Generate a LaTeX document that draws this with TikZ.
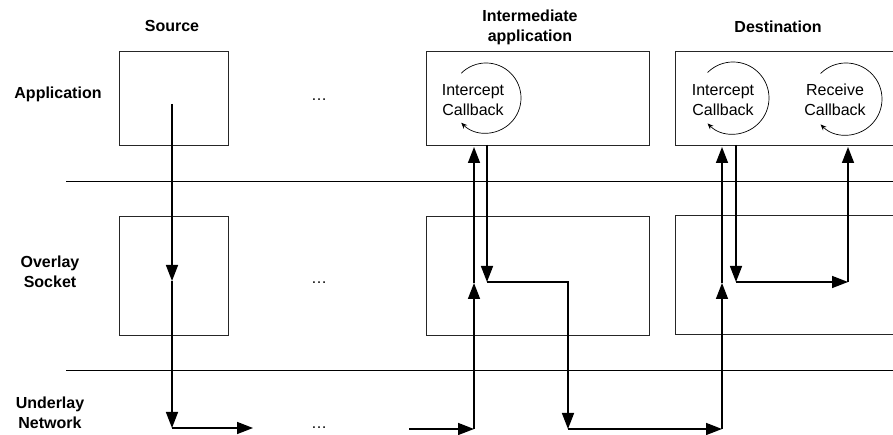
\documentclass[tikz,border=0pt]{standalone}
\usepackage{fontspec}
\setmainfont{Liberation Sans}
\usetikzlibrary{arrows.meta}

\begin{document}
\begin{tikzpicture}[x=1pt,y=1pt,>={Triangle[length=16pt,width=12pt]},
    box/.style={draw=black!85,line width=0.9pt,inner sep=0pt},
    appbox/.style={box,minimum height=94pt},
    sockbox/.style={box,minimum height=119pt},
    flow/.style={->,line width=1.5pt},
    layer/.style={font=\fontsize{16}{20}\selectfont\bfseries,align=center},
    cbtext/.style={font=\fontsize{16}{20}\selectfont,align=center},
    loop/.style={-{Stealth[length=6pt,width=5pt]},line width=0.7pt}]

    \clip (0,0) rectangle (893,435);

    % layer borders
    \draw[line width=0.9pt] (66,254) -- (893,254);
    \draw[line width=0.9pt] (66,65) -- (893,65);

    % headings
    \node[layer] (source) at (172,409) {Source};
    \node[layer] (inter) at (530,408) {Intermediate\\application};
    \node[layer] (dest) at (778,408) {Destination};
    \node[layer] (application) at (58,341) {Application};
    \node[layer] (overlay) at (50,163) {Overlay\\Socket};
    \node[layer] (underlay) at (50,22) {Underlay\\Network};

    % boxes
    \node[appbox,minimum width=109pt] (srcapp) at (173.5,337) {};
    \node[sockbox,minimum width=109pt] (srcsock) at (173.5,159.5) {};
    \node[appbox,minimum width=223pt] (midapp) at (537.5,337) {};
    \node[sockbox,minimum width=223pt] (midsock) at (537.5,159.5) {};
    \node[appbox,minimum width=240pt] (dstapp) at (795,337) {};
    \node[sockbox,minimum width=240pt] (dstsock) at (795,160) {};

    \foreach \y/\n in {334/a,151/b,6/c}
        \node[cbtext,anchor=base] (dots\n) at (319,\y) {…};

    % callbacks
    \node[cbtext] (midicb) at (473,335) {Intercept\\Callback};
    \node[cbtext] (dsticb) at (723,335) {Intercept\\Callback};
    \node[cbtext] (dstrcb) at (835,335) {Receive\\Callback};
    \draw[loop] (486,337) ++(135:35) arc[start angle=135,end angle=-135,radius=35];
    \draw[loop] (733,337) ++(135:36) arc[start angle=135,end angle=-135,radius=36];
    \draw[loop] (846,336) ++(135:36) arc[start angle=135,end angle=-135,radius=36];

    % source path
    \coordinate (s0) at (172,331);
    \coordinate (s1) at (172,154);
    \coordinate (s2) at (172,7);
    \coordinate (s3) at (253,7);
    \draw[flow] (s0) -- (s1);
    \draw[flow] (s1) -- (s2);
    \draw[flow] (s2) -- (s3);

    % intermediate path
    \coordinate (m0) at (409,6);
    \coordinate (m1) at (474,6);
    \coordinate (m2) at (474,152);
    \coordinate (m3) at (474,288);
    \coordinate (m4) at (487,290);
    \coordinate (m5) at (487,153);
    \coordinate (m6) at (568,6);
    \draw[flow] (m0) -- (m1);
    \draw[flow] (m1) -- (m2);
    \draw[flow] (m2) -- (m3);
    \draw[flow] (m4) -- (m5);
    \draw[flow] (m5) -| (m6);

    % destination path
    \coordinate (d0) at (722,6);
    \coordinate (d1) at (722,152);
    \coordinate (d2) at (722,288);
    \coordinate (d3) at (736,290);
    \coordinate (d4) at (736,153);
    \coordinate (d5) at (848,153);
    \coordinate (d6) at (848,288);
    \draw[flow] (m6) -- (d0);
    \draw[flow] (d0) -- (d1);
    \draw[flow] (d1) -- (d2);
    \draw[flow] (d3) -- (d4);
    \draw[flow] (d4) -- (d5);
    \draw[flow] (d5) -- (d6);

\end{tikzpicture}
\end{document}
